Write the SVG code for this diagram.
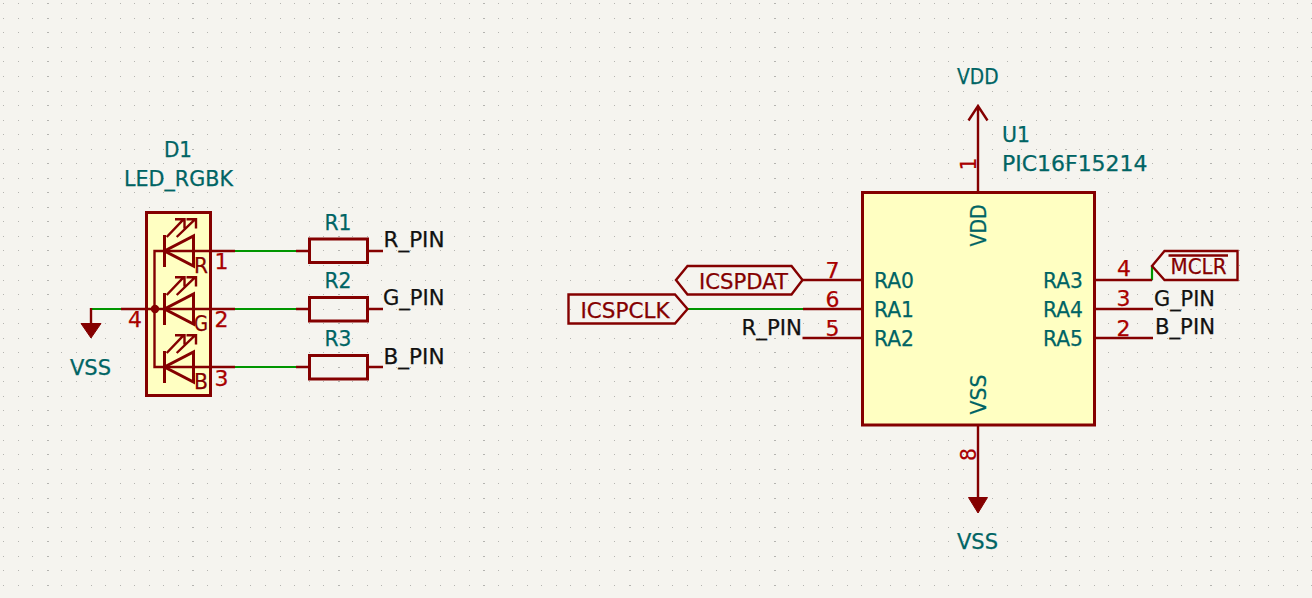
<svg xmlns="http://www.w3.org/2000/svg" width="1312" height="598" viewBox="0 0 1312 598">
<style>
text{font-family:"DejaVu Sans","Liberation Sans",sans-serif;font-size:21px;stroke-width:.25px}
.t{fill:#006464;stroke:#006464}.n{fill:#a90000;stroke:#a90000;text-anchor:middle}.k{fill:#111;stroke:#111}.h{fill:#840000;stroke:#840000}
.m{text-anchor:middle}
.b{fill:#ffffc2;stroke:#840000;stroke-width:3}
.s{fill:none;stroke:#840000;stroke-width:3}
.l{fill:none;stroke:#840000;stroke-width:2.4}
.f{fill:#840000;stroke:#840000;stroke-width:1}
.w{fill:none;stroke:#009600;stroke-width:2.2}
.p{fill:none;stroke:#840000;stroke-width:2.4}
</style>
<defs>
<path id="row" shape-rendering="crispEdges" fill="none" stroke="#b4b4b0" stroke-width="1" d="M3 .5h1M18 .5h1M32 .5h1M47 .5h2M61 .5h1M76 .5h1M91 .5h1M105 .5h1M120 .5h1M134 .5h1M149 .5h1M163 .5h1M178 .5h1M192 .5h2M207 .5h1M221 .5h1M236 .5h1M250 .5h1M265 .5h1M280 .5h1M294 .5h1M309 .5h1M323 .5h1M338 .5h2M352 .5h1M367 .5h1M381 .5h1M396 .5h1M410 .5h1M425 .5h1M440 .5h1M454 .5h1M469 .5h1M483 .5h2M498 .5h1M512 .5h1M527 .5h1M541 .5h1M556 .5h1M570 .5h1M585 .5h1M599 .5h1M614 .5h1M629 .5h2M643 .5h1M658 .5h1M672 .5h1M687 .5h1M701 .5h1M716 .5h1M730 .5h1M745 .5h1M759 .5h1M774 .5h2M788 .5h1M803 .5h1M818 .5h1M832 .5h1M847 .5h1M861 .5h1M876 .5h1M890 .5h1M905 .5h1M919 .5h1M934 .5h1M948 .5h1M963 .5h1M978 .5h1M992 .5h1M1007 .5h1M1021 .5h1M1036 .5h1M1050 .5h1M1065 .5h2M1079 .5h1M1094 .5h1M1108 .5h1M1123 .5h1M1137 .5h1M1152 .5h1M1167 .5h1M1181 .5h1M1196 .5h1M1210 .5h2M1225 .5h1M1239 .5h1M1254 .5h1M1268 .5h1M1283 .5h1M1297 .5h1M1311 .5h1"/>
<g id="led">
<path class="s" d="M164.5 -16V16"/>
<path class="s" d="M193.5 -15V15L164.5 0Z"/>
<path class="l" d="M166.7 -14L183.5 -31.7M175 -31.7H184.5V-22.5M176.7 -14L195 -31.7M186.5 -31.7H196V-22.5"/>
</g>
</defs>
<rect width="1312" height="598" fill="#f5f4ef"/>
<g id="grid">
<use href="#row" y="3"/><use href="#row" y="18"/><use href="#row" y="32"/><use href="#row" y="47"/><use href="#row" y="61"/><use href="#row" y="76"/><use href="#row" y="91"/><use href="#row" y="105"/><use href="#row" y="120"/><use href="#row" y="134"/><use href="#row" y="149"/><use href="#row" y="163"/><use href="#row" y="178"/><use href="#row" y="192"/><use href="#row" y="207"/><use href="#row" y="221"/><use href="#row" y="236"/><use href="#row" y="250"/><use href="#row" y="265"/><use href="#row" y="280"/><use href="#row" y="294"/><use href="#row" y="309"/><use href="#row" y="323"/><use href="#row" y="338"/><use href="#row" y="352"/><use href="#row" y="367"/><use href="#row" y="381"/><use href="#row" y="396"/><use href="#row" y="410"/><use href="#row" y="425"/><use href="#row" y="440"/><use href="#row" y="454"/><use href="#row" y="469"/><use href="#row" y="483"/><use href="#row" y="498"/><use href="#row" y="512"/><use href="#row" y="527"/><use href="#row" y="541"/><use href="#row" y="556"/><use href="#row" y="570"/><use href="#row" y="585"/>
</g>
<g id="connectors">
<path class="w" d="M90 309H121M235 251H296M235 309H296M235 367H296M687.5 309H803M1152 280V266.5"/>
</g>
<g id="D1">
<rect class="b" x="146.5" y="212.5" width="64" height="183"/>
<use href="#led" y="251"/><use href="#led" y="309"/><use href="#led" y="367"/>
<path class="p" d="M235 251H154.5V367H235M121 309H235"/>
<circle cx="155" cy="309" r="4.2" fill="#840000"/>
<text class="t m" x="178" y="156.5" textLength="28" lengthAdjust="spacingAndGlyphs">D1</text>
<text class="t" x="124" y="185.5" textLength="109" lengthAdjust="spacingAndGlyphs">LED_RGBK</text>
<text class="h" x="194" y="272.5" textLength="14" lengthAdjust="spacingAndGlyphs">R</text>
<text class="h" x="194" y="331" textLength="14" lengthAdjust="spacingAndGlyphs">G</text>
<text class="h" x="194" y="389" textLength="14" lengthAdjust="spacingAndGlyphs">B</text>
<text class="n" x="221.5" y="268.5" textLength="14" lengthAdjust="spacingAndGlyphs">1</text>
<text class="n" x="221.5" y="327" textLength="14" lengthAdjust="spacingAndGlyphs">2</text>
<text class="n" x="221.5" y="385.5" textLength="14" lengthAdjust="spacingAndGlyphs">3</text>
<text class="n" x="135" y="327" textLength="14" lengthAdjust="spacingAndGlyphs">4</text>
</g>
<g id="PWR_VSS_1">
<path class="p" d="M91 308V323"/>
<path class="f" d="M81 323.5H101L91 338Z"/>
<text class="t" x="70" y="374.5" textLength="41" lengthAdjust="spacingAndGlyphs">VSS</text>
</g>
<g id="R1">
<path class="p" d="M296 251H309M368 251H383"/>
<rect class="s" x="309.5" y="239" width="58" height="23.5"/>
<text class="t m" x="338" y="229.5" textLength="27" lengthAdjust="spacingAndGlyphs">R1</text>
</g>
<g id="R2">
<path class="p" d="M296 309H309M368 309H383"/>
<rect class="s" x="309.5" y="297.5" width="58" height="23.5"/>
<text class="t m" x="338" y="287.5" textLength="27" lengthAdjust="spacingAndGlyphs">R2</text>
</g>
<g id="R3">
<path class="p" d="M296 367H309M368 367H383"/>
<rect class="s" x="309.5" y="355.5" width="58" height="23.5"/>
<text class="t m" x="338" y="346" textLength="27" lengthAdjust="spacingAndGlyphs">R3</text>
</g>
<g id="labels">
<text class="k" x="383.5" y="247" textLength="61" lengthAdjust="spacingAndGlyphs">R_PIN</text>
<text class="k" x="383" y="305" textLength="61.5" lengthAdjust="spacingAndGlyphs">G_PIN</text>
<text class="k" x="383.5" y="363.5" textLength="61" lengthAdjust="spacingAndGlyphs">B_PIN</text>
<text class="k" x="741.5" y="334.5" textLength="60.5" lengthAdjust="spacingAndGlyphs">R_PIN</text>
<text class="k" x="1154" y="305.5" textLength="61" lengthAdjust="spacingAndGlyphs">G_PIN</text>
<text class="k" x="1155" y="334" textLength="60" lengthAdjust="spacingAndGlyphs">B_PIN</text>
</g>
<g id="ICSPDAT">
<path class="l" d="M802.5 280L791.5 266H687.5L676 280L687.5 294.5H791.5Z"/>
<text class="h" x="699" y="289" textLength="89" lengthAdjust="spacingAndGlyphs">ICSPDAT</text>
</g>
<g id="ICSPCLK">
<path class="l" d="M568.5 294.5H675L687.5 309L675 323.5H568.5Z"/>
<text class="h" x="580.5" y="318" textLength="89" lengthAdjust="spacingAndGlyphs">ICSPCLK</text>
</g>
<g id="MCLR">
<path class="l" d="M1152 266L1164.5 251H1237.5V280H1164.5Z"/>
<path class="l" d="M1168.5 255.5H1228"/>
<text class="h" x="1170.5" y="274" textLength="56" lengthAdjust="spacingAndGlyphs">MCLR</text>
</g>
<g id="U1">
<path class="p" d="M802.5 280H862M803 309H862M802.5 338H862M1094 280H1152M1094 309H1153M1094 338H1153M978 192V106M968.5 120.5L978 106L987.5 120.5M978 425V497"/>
<rect class="b" x="862.5" y="192.5" width="232" height="232.5"/>
<text class="t" x="1002" y="142" textLength="28" lengthAdjust="spacingAndGlyphs">U1</text>
<text class="t" x="1002" y="171" textLength="145.5" lengthAdjust="spacingAndGlyphs">PIC16F15214</text>
<text class="t" x="874" y="287.5" textLength="40" lengthAdjust="spacingAndGlyphs">RA0</text>
<text class="t" x="874" y="316.5" textLength="40" lengthAdjust="spacingAndGlyphs">RA1</text>
<text class="t" x="874" y="345.5" textLength="40" lengthAdjust="spacingAndGlyphs">RA2</text>
<text class="t" x="1043" y="287.5" textLength="40" lengthAdjust="spacingAndGlyphs">RA3</text>
<text class="t" x="1043" y="316.5" textLength="40" lengthAdjust="spacingAndGlyphs">RA4</text>
<text class="t" x="1043" y="345.5" textLength="40" lengthAdjust="spacingAndGlyphs">RA5</text>
<text class="t m" transform="translate(986 225.5) rotate(-90)" textLength="42" lengthAdjust="spacingAndGlyphs">VDD</text>
<text class="t m" transform="translate(986 394.5) rotate(-90)" textLength="40" lengthAdjust="spacingAndGlyphs">VSS</text>
<text class="n" x="832.5" y="278" textLength="14" lengthAdjust="spacingAndGlyphs">7</text>
<text class="n" x="832.5" y="306.5" textLength="14" lengthAdjust="spacingAndGlyphs">6</text>
<text class="n" x="832.5" y="336" textLength="14" lengthAdjust="spacingAndGlyphs">5</text>
<text class="n" x="1124" y="275.5" textLength="14" lengthAdjust="spacingAndGlyphs">4</text>
<text class="n" x="1123.5" y="306" textLength="14" lengthAdjust="spacingAndGlyphs">3</text>
<text class="n" x="1123.5" y="335.5" textLength="14" lengthAdjust="spacingAndGlyphs">2</text>
<text class="n" transform="translate(975.5 164) rotate(-90)" textLength="13" lengthAdjust="spacingAndGlyphs">1</text>
<text class="n" transform="translate(975.5 454.5) rotate(-90)" textLength="13" lengthAdjust="spacingAndGlyphs">8</text>
</g>
<g id="PWR_VDD"><text class="t" x="957" y="83.5" textLength="41.5" lengthAdjust="spacingAndGlyphs">VDD</text></g>
<g id="PWR_VSS_2">
<path class="f" d="M968.5 497.5H987.5L978 513Z"/>
<text class="t" x="957" y="549" textLength="41" lengthAdjust="spacingAndGlyphs">VSS</text>
</g>
</svg>
